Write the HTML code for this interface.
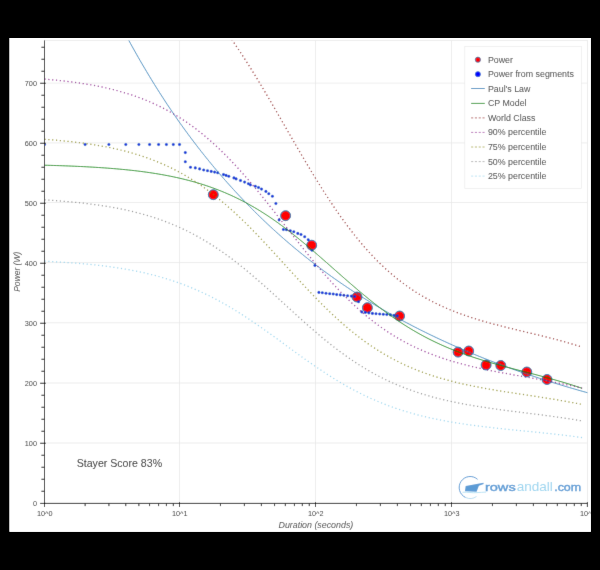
<!DOCTYPE html><html><head><meta charset="utf-8"><title>CP chart</title><style>html,body{margin:0;padding:0;background:#000;}svg{display:block;font-family:"Liberation Sans",sans-serif;}</style></head><body>
<svg width="600" height="570" viewBox="0 0 600 570">
<rect x="0" y="0" width="600" height="570" fill="#000"/>
<rect x="9.5" y="38" width="581.3" height="493.8" fill="#fff"/>
<defs><clipPath id="fr"><rect x="44.5" y="40.5" width="542.9" height="462.9"/></clipPath><clipPath id="wh"><rect x="9.5" y="38" width="581.3" height="493.8"/></clipPath><filter id="soft" x="0" y="0" width="600" height="570" filterUnits="userSpaceOnUse"><feConvolveMatrix order="3" kernelMatrix="0.00524 0.06192 0.00524 0.06192 0.73137 0.06192 0.00524 0.06192 0.00524" divisor="1" edgeMode="duplicate" preserveAlpha="true"/></filter></defs>
<g clip-path="url(#wh)"><g filter="url(#soft)">
<rect x="0" y="0" width="600" height="570" fill="#fff"/>
<path d="M179.50,40.5 V503.4 M315.50,40.5 V503.4 M451.50,40.5 V503.4 M44.5,443.00 H587.4 M44.5,383.00 H587.4 M44.5,322.80 H587.4 M44.5,262.55 H587.4 M44.5,202.50 H587.4 M44.5,142.90 H587.4 M44.5,83.15 H587.4" stroke="#e5e5e5" stroke-width="0.7" fill="none"/>
<rect x="44.5" y="40.5" width="542.9" height="462.9" fill="none" stroke="#e5e5e5" stroke-width="0.7"/>
<g clip-path="url(#fr)" fill="none">
<g fill="#ff0000" stroke="#1f77b4" stroke-width="1">
<circle cx="213.3" cy="194.7" r="4.95"/>
<circle cx="285.6" cy="215.7" r="4.95"/>
<circle cx="311.7" cy="245.2" r="4.95"/>
<circle cx="357.0" cy="297.0" r="4.95"/>
<circle cx="367.4" cy="307.7" r="4.95"/>
<circle cx="399.6" cy="316.0" r="4.95"/>
<circle cx="458.1" cy="352.1" r="4.95"/>
<circle cx="468.7" cy="351.0" r="4.95"/>
<circle cx="486.1" cy="365.0" r="4.95"/>
<circle cx="500.8" cy="365.5" r="4.95"/>
<circle cx="526.8" cy="372.0" r="4.95"/>
<circle cx="547.0" cy="379.5" r="4.95"/>
</g>
<g fill="#0022e0" stroke="#1f77b4" stroke-width="0.3">
<circle cx="44.5" cy="144.5" r="1.3"/>
<circle cx="85.1" cy="144.5" r="1.3"/>
<circle cx="108.9" cy="144.5" r="1.3"/>
<circle cx="125.8" cy="144.5" r="1.3"/>
<circle cx="138.9" cy="144.5" r="1.3"/>
<circle cx="149.6" cy="144.5" r="1.3"/>
<circle cx="158.6" cy="144.5" r="1.3"/>
<circle cx="166.4" cy="144.5" r="1.3"/>
<circle cx="173.3" cy="144.5" r="1.3"/>
<circle cx="179.5" cy="144.5" r="1.3"/>
<circle cx="185.3" cy="152.6" r="1.3"/>
<circle cx="185.3" cy="161.8" r="1.3"/>
<circle cx="190.5" cy="167.2" r="1.3"/>
<circle cx="195.3" cy="167.9" r="1.3"/>
<circle cx="199.6" cy="168.9" r="1.3"/>
<circle cx="203.7" cy="170.0" r="1.3"/>
<circle cx="207.5" cy="170.7" r="1.3"/>
<circle cx="211.2" cy="171.4" r="1.3"/>
<circle cx="214.6" cy="172.1" r="1.3"/>
<circle cx="217.7" cy="172.8" r="1.3"/>
<circle cx="223.5" cy="174.6" r="1.3"/>
<circle cx="226.1" cy="175.4" r="1.3"/>
<circle cx="228.8" cy="176.3" r="1.3"/>
<circle cx="233.9" cy="177.9" r="1.3"/>
<circle cx="236.1" cy="178.9" r="1.3"/>
<circle cx="240.5" cy="180.5" r="1.3"/>
<circle cx="244.6" cy="182.1" r="1.3"/>
<circle cx="248.4" cy="183.7" r="1.3"/>
<circle cx="250.4" cy="184.9" r="1.3"/>
<circle cx="255.3" cy="186.2" r="1.3"/>
<circle cx="258.5" cy="187.5" r="1.3"/>
<circle cx="261.5" cy="189.1" r="1.3"/>
<circle cx="265.9" cy="191.4" r="1.3"/>
<circle cx="268.8" cy="193.7" r="1.3"/>
<circle cx="272.4" cy="196.2" r="1.3"/>
<circle cx="275.9" cy="203.5" r="1.3"/>
<circle cx="279.1" cy="219.9" r="1.3"/>
<circle cx="283.4" cy="229.5" r="1.3"/>
<circle cx="286.5" cy="229.7" r="1.3"/>
<circle cx="290.3" cy="230.8" r="1.3"/>
<circle cx="293.8" cy="231.8" r="1.3"/>
<circle cx="297.8" cy="233.4" r="1.3"/>
<circle cx="301.0" cy="234.5" r="1.3"/>
<circle cx="304.7" cy="236.8" r="1.3"/>
<circle cx="308.2" cy="239.7" r="1.3"/>
<circle cx="312.0" cy="250.2" r="1.3"/>
<circle cx="314.9" cy="265.4" r="1.3"/>
<circle cx="318.9" cy="292.4" r="1.3"/>
<circle cx="322.3" cy="292.8" r="1.3"/>
<circle cx="326.0" cy="293.3" r="1.3"/>
<circle cx="329.7" cy="293.7" r="1.3"/>
<circle cx="333.2" cy="294.0" r="1.3"/>
<circle cx="336.7" cy="294.6" r="1.3"/>
<circle cx="340.3" cy="294.9" r="1.3"/>
<circle cx="343.9" cy="295.3" r="1.3"/>
<circle cx="347.6" cy="295.8" r="1.3"/>
<circle cx="351.3" cy="296.1" r="1.3"/>
<circle cx="354.7" cy="296.5" r="1.3"/>
<circle cx="358.6" cy="301.8" r="1.3"/>
<circle cx="361.8" cy="311.9" r="1.3"/>
<circle cx="365.3" cy="312.4" r="1.3"/>
<circle cx="368.9" cy="312.9" r="1.3"/>
<circle cx="372.4" cy="313.4" r="1.3"/>
<circle cx="376.0" cy="313.7" r="1.3"/>
<circle cx="379.7" cy="314.0" r="1.3"/>
<circle cx="383.3" cy="314.3" r="1.3"/>
<circle cx="386.8" cy="314.5" r="1.3"/>
<circle cx="390.5" cy="314.9" r="1.3"/>
<circle cx="394.0" cy="315.4" r="1.3"/>
<circle cx="397.4" cy="315.8" r="1.3"/>
</g>
<path d="M39.55,-169.71 L41.18,-164.86 L42.81,-160.06 L44.43,-155.30 L46.06,-150.59 L47.69,-145.92 L49.32,-141.29 L50.95,-136.71 L52.58,-132.18 L54.20,-127.68 L55.83,-123.23 L57.46,-118.82 L59.08,-114.45 L60.71,-110.13 L62.34,-105.84 L63.96,-101.59 L65.59,-97.38 L67.21,-93.21 L68.84,-89.08 L70.46,-84.99 L72.09,-80.94 L73.71,-76.92 L75.33,-72.94 L76.96,-68.99 L78.58,-65.08 L80.20,-61.21 L81.82,-57.37 L83.44,-53.57 L85.07,-49.80 L86.69,-46.06 L88.31,-42.36 L89.93,-38.69 L91.55,-35.06 L93.17,-31.46 L94.79,-27.89 L96.41,-24.35 L98.03,-20.84 L99.65,-17.36 L101.26,-13.92 L102.88,-10.50 L104.50,-7.11 L106.12,-3.76 L107.74,-0.43 L109.35,2.87 L110.97,6.14 L112.59,9.38 L114.20,12.59 L115.82,15.77 L117.43,18.93 L119.05,22.06 L120.66,25.16 L122.28,28.24 L123.89,31.29 L125.51,34.31 L127.12,37.31 L128.74,40.28 L130.35,43.23 L131.96,46.15 L133.58,49.05 L135.19,51.92 L136.80,54.77 L138.41,57.60 L140.03,60.40 L141.64,63.18 L143.25,65.93 L144.86,68.66 L146.47,71.37 L148.08,74.06 L149.69,76.72 L151.30,79.37 L152.91,81.99 L154.52,84.59 L156.13,87.16 L157.74,89.72 L159.35,92.26 L160.96,94.77 L162.57,97.26 L164.18,99.74 L165.78,102.19 L167.39,104.63 L169.00,107.04 L170.61,109.44 L172.21,111.81 L173.82,114.17 L175.43,116.51 L177.03,118.83 L178.64,121.13 L180.25,123.41 L181.87,125.67 L183.49,127.92 L185.10,130.15 L186.72,132.36 L188.34,134.55 L189.95,136.73 L191.57,138.89 L193.18,141.03 L194.80,143.15 L196.42,145.26 L198.03,147.36 L199.65,149.43 L201.26,151.49 L202.87,153.54 L204.49,155.56 L206.10,157.58 L207.72,159.57 L209.33,161.55 L210.94,163.52 L212.56,165.47 L214.17,167.41 L215.78,169.33 L217.40,171.24 L219.01,173.13 L220.62,175.01 L222.23,176.87 L223.84,178.72 L225.46,180.56 L227.07,182.38 L228.68,184.19 L230.29,185.98 L231.90,187.76 L233.51,189.53 L235.12,191.29 L236.73,193.03 L238.34,194.76 L239.95,196.47 L241.56,198.17 L243.17,199.87 L244.78,201.54 L246.39,203.21 L247.99,204.86 L249.60,206.50 L251.21,208.13 L252.82,209.75 L254.43,211.36 L256.03,212.95 L257.64,214.53 L259.25,216.10 L260.86,217.66 L262.46,219.21 L264.07,220.75 L265.68,222.27 L267.28,223.79 L268.89,225.29 L270.49,226.79 L272.10,228.27 L273.70,229.74 L275.31,231.20 L276.92,232.65 L278.52,234.10 L280.13,235.53 L281.73,236.95 L283.33,238.36 L284.94,239.76 L286.54,241.15 L288.15,242.53 L289.75,243.90 L291.35,245.26 L292.96,246.61 L294.56,247.96 L296.16,249.29 L297.77,250.61 L299.37,251.93 L300.97,253.23 L302.57,254.53 L304.17,255.82 L305.78,257.10 L307.38,258.37 L308.98,259.63 L310.58,260.88 L312.18,262.13 L313.78,263.36 L315.38,264.59 L316.98,265.81 L318.58,267.02 L320.18,268.22 L321.78,269.41 L323.38,270.60 L324.98,271.78 L326.58,272.95 L328.18,274.11 L329.78,275.27 L331.38,276.41 L332.98,277.55 L334.58,278.68 L336.18,279.81 L337.78,280.92 L339.37,282.03 L340.97,283.13 L342.57,284.23 L344.17,285.31 L345.77,286.39 L347.36,287.47 L348.96,288.53 L350.56,289.59 L352.15,290.64 L353.75,291.69 L355.35,292.72 L356.94,293.76 L358.54,294.78 L360.14,295.80 L361.73,296.81 L363.33,297.81 L364.92,298.81 L366.52,299.80 L368.12,300.79 L369.71,301.77 L371.31,302.74 L372.90,303.71 L374.50,304.67 L376.09,305.62 L377.68,306.57 L379.28,307.51 L380.87,308.44 L382.47,309.37 L384.06,310.30 L385.65,311.22 L387.25,312.13 L388.84,313.03 L390.44,313.94 L392.03,314.83 L393.62,315.72 L395.21,316.60 L396.81,317.48 L398.40,318.35 L399.99,319.22 L401.58,320.08 L403.18,320.94 L404.77,321.79 L406.36,322.64 L407.95,323.48 L409.54,324.31 L411.13,325.14 L412.73,325.97 L414.32,326.79 L415.91,327.60 L417.50,328.41 L419.09,329.22 L420.68,330.02 L422.27,330.81 L423.86,331.60 L425.45,332.39 L427.04,333.17 L428.63,333.94 L430.22,334.72 L431.81,335.48 L433.40,336.24 L434.99,337.00 L436.58,337.75 L438.17,338.50 L439.76,339.25 L441.34,339.98 L442.93,340.72 L444.52,341.45 L446.11,342.18 L447.70,342.90 L449.29,343.61 L450.87,344.33 L452.46,345.04 L454.05,345.74 L455.64,346.44 L457.22,347.14 L458.81,347.83 L460.40,348.52 L461.99,349.20 L463.57,349.88 L465.16,350.56 L466.75,351.23 L468.33,351.90 L469.92,352.56 L471.51,353.22 L473.09,353.88 L474.68,354.53 L476.26,355.18 L477.85,355.82 L479.43,356.46 L481.02,357.10 L482.61,357.74 L484.19,358.37 L485.78,358.99 L487.36,359.61 L488.95,360.23 L490.53,360.85 L492.12,361.46 L493.70,362.07 L495.28,362.68 L496.87,363.28 L498.45,363.88 L500.04,364.47 L501.62,365.06 L503.20,365.65 L504.79,366.24 L506.37,366.82 L507.96,367.40 L509.54,367.97 L511.12,368.54 L512.71,369.11 L514.29,369.68 L515.87,370.24 L517.45,370.80 L519.04,371.35 L520.62,371.91 L522.20,372.45 L523.78,373.00 L525.37,373.54 L526.95,374.09 L528.53,374.62 L530.11,375.16 L531.69,375.69 L533.28,376.22 L534.86,376.74 L536.44,377.27 L538.02,377.79 L539.60,378.30 L541.18,378.82 L542.76,379.33 L544.34,379.84 L545.92,380.34 L547.50,380.85 L549.08,381.35 L550.67,381.84 L552.25,382.34 L553.83,382.83 L555.41,383.32 L556.99,383.81 L558.57,384.29 L560.15,384.77 L561.72,385.25 L563.30,385.73 L564.88,386.20 L566.46,386.67 L568.04,387.14 L569.62,387.61 L571.20,388.07 L572.78,388.53 L574.36,388.99 L575.94,389.45 L577.52,389.90 L579.09,390.35 L580.67,390.80 L582.25,391.25 L583.83,391.69 L585.41,392.14 L586.98,392.58 L588.56,393.01 L590.14,393.45" stroke="#1f77b4" stroke-width="0.95" stroke-opacity="0.85"/>
<path d="M44.50,165.21 L47.50,165.29 L50.51,165.37 L53.51,165.46 L56.51,165.55 L59.52,165.65 L62.52,165.76 L65.52,165.87 L68.53,165.98 L71.53,166.10 L74.53,166.23 L77.54,166.36 L80.54,166.50 L83.54,166.65 L86.55,166.81 L89.55,166.97 L92.55,167.14 L95.56,167.32 L98.56,167.51 L101.56,167.71 L104.57,167.92 L107.57,168.14 L110.57,168.37 L113.58,168.61 L116.58,168.86 L119.58,169.13 L122.59,169.41 L125.59,169.70 L128.59,170.01 L131.60,170.33 L134.60,170.67 L137.60,171.03 L140.61,171.40 L143.61,171.79 L146.61,172.20 L149.62,172.63 L152.62,173.08 L155.62,173.56 L158.63,174.05 L161.63,174.57 L164.63,175.11 L167.64,175.68 L170.64,176.27 L173.64,176.89 L176.65,177.54 L179.65,178.22 L182.65,178.92 L185.66,179.66 L188.66,180.43 L191.66,181.23 L194.67,182.06 L197.67,182.93 L200.67,183.84 L203.68,184.79 L206.68,185.77 L209.68,186.80 L212.69,187.87 L215.69,188.98 L218.69,190.13 L221.70,191.33 L224.70,192.57 L227.70,193.86 L230.71,195.20 L233.71,196.58 L236.71,198.01 L239.72,199.50 L242.72,201.03 L245.72,202.62 L248.73,204.25 L251.73,205.94 L254.73,207.68 L257.74,209.47 L260.74,211.31 L263.74,213.21 L266.75,215.15 L269.75,217.15 L272.75,219.20 L275.76,221.29 L278.76,223.44 L281.76,225.63 L284.77,227.86 L287.77,230.14 L290.77,232.47 L293.78,234.83 L296.78,237.23 L299.78,239.67 L302.79,242.14 L305.79,244.65 L308.79,247.18 L311.80,249.74 L314.80,252.32 L317.81,254.92 L320.81,257.54 L323.81,260.17 L326.82,262.81 L329.82,265.46 L332.82,268.11 L335.83,270.77 L338.83,273.42 L341.83,276.06 L344.84,278.70 L347.84,281.32 L350.84,283.92 L353.85,286.51 L356.85,289.07 L359.85,291.61 L362.86,294.12 L365.86,296.60 L368.86,299.05 L371.87,301.47 L374.87,303.84 L377.87,306.18 L380.88,308.48 L383.88,310.73 L386.88,312.94 L389.89,315.11 L392.89,317.23 L395.89,319.30 L398.90,321.33 L401.90,323.31 L404.90,325.24 L407.91,327.12 L410.91,328.96 L413.91,330.74 L416.92,332.48 L419.92,334.17 L422.92,335.81 L425.93,337.41 L428.93,338.96 L431.93,340.46 L434.94,341.92 L437.94,343.34 L440.94,344.72 L443.95,346.05 L446.95,347.35 L449.95,348.61 L452.96,349.83 L455.96,351.01 L458.96,352.16 L461.97,353.28 L464.97,354.37 L467.97,355.43 L470.98,356.46 L473.98,357.46 L476.98,358.44 L479.99,359.39 L482.99,360.32 L485.99,361.23 L489.00,362.12 L492.00,363.00 L495.00,363.86 L498.01,364.70 L501.01,365.53 L504.01,366.35 L507.02,367.16 L510.02,367.96 L513.02,368.75 L516.03,369.54 L519.03,370.32 L522.03,371.10 L525.04,371.88 L528.04,372.66 L531.04,373.45 L534.05,374.23 L537.05,375.02 L540.05,375.82 L543.06,376.62 L546.06,377.43 L549.06,378.26 L552.07,379.09 L555.07,379.94 L558.07,380.80 L561.08,381.67 L564.08,382.56 L567.08,383.47 L570.09,384.40 L573.09,385.34 L576.09,386.31 L579.10,387.30 L582.10,388.31" stroke="#008000" stroke-width="0.95" stroke-opacity="0.85"/>
<path d="M44.50,-72.21 L47.50,-71.87 L50.51,-71.50 L53.51,-71.11 L56.51,-70.71 L59.52,-70.28 L62.52,-69.83 L65.52,-69.36 L68.53,-68.87 L71.53,-68.35 L74.53,-67.81 L77.54,-67.24 L80.54,-66.64 L83.54,-66.01 L86.55,-65.35 L89.55,-64.66 L92.55,-63.93 L95.56,-63.17 L98.56,-62.38 L101.56,-61.54 L104.57,-60.66 L107.57,-59.75 L110.57,-58.79 L113.58,-57.78 L116.58,-56.72 L119.58,-55.62 L122.59,-54.47 L125.59,-53.26 L128.59,-52.00 L131.60,-50.67 L134.60,-49.29 L137.60,-47.85 L140.61,-46.35 L143.61,-44.77 L146.61,-43.13 L149.62,-41.42 L152.62,-39.64 L155.62,-37.77 L158.63,-35.84 L161.63,-33.82 L164.63,-31.72 L167.64,-29.53 L170.64,-27.26 L173.64,-24.90 L176.65,-22.45 L179.65,-19.91 L182.65,-17.29 L185.66,-14.57 L188.66,-11.76 L191.66,-8.86 L194.67,-5.85 L197.67,-2.74 L200.67,0.46 L203.68,3.77 L206.68,7.18 L209.68,10.70 L212.69,14.31 L215.69,18.03 L218.69,21.85 L221.70,25.76 L224.70,29.78 L227.70,33.89 L230.71,38.10 L233.71,42.40 L236.71,46.80 L239.72,51.27 L242.72,55.84 L245.72,60.48 L248.73,65.20 L251.73,69.99 L254.73,74.85 L257.74,79.78 L260.74,84.75 L263.74,89.79 L266.75,94.86 L269.75,99.98 L272.75,105.13 L275.76,110.30 L278.76,115.50 L281.76,120.71 L284.77,125.93 L287.77,131.15 L290.77,136.37 L293.78,141.57 L296.78,146.75 L299.78,151.91 L302.79,157.03 L305.79,162.12 L308.79,167.16 L311.80,172.15 L314.80,177.09 L317.81,181.96 L320.81,186.77 L323.81,191.51 L326.82,196.17 L329.82,200.75 L332.82,205.25 L335.83,209.67 L338.83,213.99 L341.83,218.23 L344.84,222.37 L347.84,226.41 L350.84,230.36 L353.85,234.21 L356.85,237.96 L359.85,241.60 L362.86,245.15 L365.86,248.60 L368.86,251.95 L371.87,255.19 L374.87,258.34 L377.87,261.39 L380.88,264.34 L383.88,267.19 L386.88,269.95 L389.89,272.62 L392.89,275.20 L395.89,277.68 L398.90,280.08 L401.90,282.40 L404.90,284.63 L407.91,286.78 L410.91,288.85 L413.91,290.85 L416.92,292.77 L419.92,294.62 L422.92,296.40 L425.93,298.11 L428.93,299.76 L431.93,301.35 L434.94,302.88 L437.94,304.35 L440.94,305.77 L443.95,307.13 L446.95,308.45 L449.95,309.72 L452.96,310.94 L455.96,312.12 L458.96,313.25 L461.97,314.35 L464.97,315.41 L467.97,316.44 L470.98,317.43 L473.98,318.39 L476.98,319.33 L479.99,320.24 L482.99,321.12 L485.99,321.98 L489.00,322.82 L492.00,323.64 L495.00,324.44 L498.01,325.22 L501.01,325.99 L504.01,326.75 L507.02,327.50 L510.02,328.24 L513.02,328.97 L516.03,329.69 L519.03,330.41 L522.03,331.13 L525.04,331.84 L528.04,332.56 L531.04,333.28 L534.05,334.00 L537.05,334.72 L540.05,335.45 L543.06,336.19 L546.06,336.94 L549.06,337.70 L552.07,338.47 L555.07,339.25 L558.07,340.05 L561.08,340.87 L564.08,341.70 L567.08,342.55 L570.09,343.42 L573.09,344.31 L576.09,345.23 L579.10,346.17 L582.10,347.14" stroke="#800000" stroke-width="1.25" stroke-opacity="0.85" stroke-dasharray="1.15 2.69"/>
<path d="M44.50,79.08 L47.50,79.33 L50.51,79.61 L53.51,79.89 L56.51,80.19 L59.52,80.50 L62.52,80.83 L65.52,81.18 L68.53,81.54 L71.53,81.92 L74.53,82.32 L77.54,82.74 L80.54,83.19 L83.54,83.65 L86.55,84.14 L89.55,84.64 L92.55,85.18 L95.56,85.74 L98.56,86.33 L101.56,86.94 L104.57,87.59 L107.57,88.27 L110.57,88.97 L113.58,89.72 L116.58,90.49 L119.58,91.31 L122.59,92.16 L125.59,93.05 L128.59,93.98 L131.60,94.95 L134.60,95.97 L137.60,97.03 L140.61,98.14 L143.61,99.30 L146.61,100.51 L149.62,101.77 L152.62,103.09 L155.62,104.46 L158.63,105.89 L161.63,107.38 L164.63,108.92 L167.64,110.54 L170.64,112.21 L173.64,113.95 L176.65,115.76 L179.65,117.63 L182.65,119.56 L185.66,121.56 L188.66,123.63 L191.66,125.77 L194.67,127.99 L197.67,130.28 L200.67,132.64 L203.68,135.08 L206.68,137.60 L209.68,140.18 L212.69,142.85 L215.69,145.59 L218.69,148.40 L221.70,151.29 L224.70,154.25 L227.70,157.28 L230.71,160.38 L233.71,163.55 L236.71,166.79 L239.72,170.09 L242.72,173.46 L245.72,176.88 L248.73,180.36 L251.73,183.89 L254.73,187.47 L257.74,191.10 L260.74,194.77 L263.74,198.48 L266.75,202.22 L269.75,205.99 L272.75,209.78 L275.76,213.60 L278.76,217.43 L281.76,221.27 L284.77,225.12 L287.77,228.97 L290.77,232.81 L293.78,236.64 L296.78,240.46 L299.78,244.26 L302.79,248.04 L305.79,251.79 L308.79,255.50 L311.80,259.18 L314.80,262.82 L317.81,266.41 L320.81,269.95 L323.81,273.45 L326.82,276.88 L329.82,280.26 L332.82,283.58 L335.83,286.83 L338.83,290.02 L341.83,293.14 L344.84,296.19 L347.84,299.17 L350.84,302.08 L353.85,304.92 L356.85,307.68 L359.85,310.37 L362.86,312.99 L365.86,315.53 L368.86,317.99 L371.87,320.38 L374.87,322.70 L377.87,324.95 L380.88,327.13 L383.88,329.23 L386.88,331.26 L389.89,333.23 L392.89,335.13 L395.89,336.96 L398.90,338.73 L401.90,340.44 L404.90,342.08 L407.91,343.67 L410.91,345.19 L413.91,346.66 L416.92,348.08 L419.92,349.44 L422.92,350.76 L425.93,352.02 L428.93,353.24 L431.93,354.41 L434.94,355.53 L437.94,356.62 L440.94,357.66 L443.95,358.67 L446.95,359.64 L449.95,360.57 L452.96,361.47 L455.96,362.34 L458.96,363.18 L461.97,363.99 L464.97,364.77 L467.97,365.52 L470.98,366.26 L473.98,366.97 L476.98,367.66 L479.99,368.32 L482.99,368.97 L485.99,369.61 L489.00,370.23 L492.00,370.83 L495.00,371.42 L498.01,372.00 L501.01,372.57 L504.01,373.13 L507.02,373.68 L510.02,374.22 L513.02,374.76 L516.03,375.29 L519.03,375.82 L522.03,376.35 L525.04,376.88 L528.04,377.41 L531.04,377.94 L534.05,378.47 L537.05,379.00 L540.05,379.54 L543.06,380.08 L546.06,380.64 L549.06,381.20 L552.07,381.76 L555.07,382.34 L558.07,382.93 L561.08,383.53 L564.08,384.14 L567.08,384.77 L570.09,385.41 L573.09,386.07 L576.09,386.75 L579.10,387.44 L582.10,388.15" stroke="#800080" stroke-width="1.25" stroke-opacity="0.85" stroke-dasharray="1.15 2.69"/>
<path d="M44.50,139.29 L47.50,139.51 L50.51,139.74 L53.51,139.99 L56.51,140.24 L59.52,140.51 L62.52,140.79 L65.52,141.09 L68.53,141.40 L71.53,141.73 L74.53,142.07 L77.54,142.44 L80.54,142.81 L83.54,143.21 L86.55,143.63 L89.55,144.07 L92.55,144.52 L95.56,145.01 L98.56,145.51 L101.56,146.04 L104.57,146.59 L107.57,147.17 L110.57,147.78 L113.58,148.42 L116.58,149.08 L119.58,149.78 L122.59,150.51 L125.59,151.28 L128.59,152.07 L131.60,152.91 L134.60,153.78 L137.60,154.69 L140.61,155.65 L143.61,156.64 L146.61,157.68 L149.62,158.76 L152.62,159.89 L155.62,161.07 L158.63,162.29 L161.63,163.57 L164.63,164.90 L167.64,166.28 L170.64,167.72 L173.64,169.21 L176.65,170.76 L179.65,172.37 L182.65,174.02 L185.66,175.74 L188.66,177.52 L191.66,179.35 L194.67,181.25 L197.67,183.22 L200.67,185.25 L203.68,187.34 L206.68,189.50 L209.68,191.72 L212.69,194.00 L215.69,196.35 L218.69,198.77 L221.70,201.25 L224.70,203.79 L227.70,206.39 L230.71,209.05 L233.71,211.77 L236.71,214.55 L239.72,217.38 L242.72,220.26 L245.72,223.20 L248.73,226.19 L251.73,229.22 L254.73,232.29 L257.74,235.40 L260.74,238.55 L263.74,241.73 L266.75,244.94 L269.75,248.18 L272.75,251.43 L275.76,254.71 L278.76,257.99 L281.76,261.29 L284.77,264.59 L287.77,267.89 L290.77,271.19 L293.78,274.48 L296.78,277.76 L299.78,281.02 L302.79,284.26 L305.79,287.47 L308.79,290.66 L311.80,293.82 L314.80,296.94 L317.81,300.02 L320.81,303.06 L323.81,306.06 L326.82,309.01 L329.82,311.90 L332.82,314.75 L335.83,317.54 L338.83,320.28 L341.83,322.96 L344.84,325.57 L347.84,328.13 L350.84,330.63 L353.85,333.06 L356.85,335.43 L359.85,337.74 L362.86,339.98 L365.86,342.16 L368.86,344.28 L371.87,346.33 L374.87,348.32 L377.87,350.25 L380.88,352.11 L383.88,353.92 L386.88,355.67 L389.89,357.35 L392.89,358.98 L395.89,360.55 L398.90,362.07 L401.90,363.53 L404.90,364.95 L407.91,366.31 L410.91,367.62 L413.91,368.88 L416.92,370.09 L419.92,371.26 L422.92,372.39 L425.93,373.47 L428.93,374.52 L431.93,375.52 L434.94,376.49 L437.94,377.42 L440.94,378.31 L443.95,379.18 L446.95,380.01 L449.95,380.81 L452.96,381.58 L455.96,382.33 L458.96,383.05 L461.97,383.74 L464.97,384.41 L467.97,385.06 L470.98,385.69 L473.98,386.30 L476.98,386.89 L479.99,387.46 L482.99,388.02 L485.99,388.56 L489.00,389.09 L492.00,389.61 L495.00,390.12 L498.01,390.62 L501.01,391.10 L504.01,391.58 L507.02,392.05 L510.02,392.52 L513.02,392.98 L516.03,393.44 L519.03,393.90 L522.03,394.35 L525.04,394.80 L528.04,395.26 L531.04,395.71 L534.05,396.16 L537.05,396.62 L540.05,397.09 L543.06,397.55 L546.06,398.03 L549.06,398.51 L552.07,398.99 L555.07,399.49 L558.07,399.99 L561.08,400.51 L564.08,401.03 L567.08,401.57 L570.09,402.12 L573.09,402.69 L576.09,403.27 L579.10,403.86 L582.10,404.47" stroke="#808000" stroke-width="1.25" stroke-opacity="0.85" stroke-dasharray="1.15 2.69"/>
<path d="M44.50,199.92 L47.50,200.11 L50.51,200.30 L53.51,200.50 L56.51,200.72 L59.52,200.94 L62.52,201.18 L65.52,201.43 L68.53,201.69 L71.53,201.96 L74.53,202.25 L77.54,202.55 L80.54,202.86 L83.54,203.19 L86.55,203.54 L89.55,203.90 L92.55,204.29 L95.56,204.69 L98.56,205.11 L101.56,205.55 L104.57,206.01 L107.57,206.49 L110.57,207.00 L113.58,207.53 L116.58,208.09 L119.58,208.67 L122.59,209.28 L125.59,209.91 L128.59,210.58 L131.60,211.27 L134.60,212.00 L137.60,212.76 L140.61,213.56 L143.61,214.38 L146.61,215.25 L149.62,216.15 L152.62,217.09 L155.62,218.07 L158.63,219.09 L161.63,220.16 L164.63,221.26 L167.64,222.42 L170.64,223.61 L173.64,224.86 L176.65,226.15 L179.65,227.49 L182.65,228.87 L185.66,230.30 L188.66,231.78 L191.66,233.31 L194.67,234.90 L197.67,236.53 L200.67,238.22 L203.68,239.97 L206.68,241.76 L209.68,243.62 L212.69,245.52 L215.69,247.48 L218.69,249.49 L221.70,251.56 L224.70,253.67 L227.70,255.84 L230.71,258.06 L233.71,260.32 L236.71,262.64 L239.72,265.00 L242.72,267.40 L245.72,269.85 L248.73,272.34 L251.73,274.86 L254.73,277.42 L257.74,280.02 L260.74,282.64 L263.74,285.29 L266.75,287.97 L269.75,290.66 L272.75,293.38 L275.76,296.11 L278.76,298.85 L281.76,301.59 L284.77,304.34 L287.77,307.09 L290.77,309.84 L293.78,312.58 L296.78,315.31 L299.78,318.03 L302.79,320.73 L305.79,323.41 L308.79,326.07 L311.80,328.70 L314.80,331.30 L317.81,333.87 L320.81,336.40 L323.81,338.90 L326.82,341.35 L329.82,343.77 L332.82,346.14 L335.83,348.47 L338.83,350.75 L341.83,352.98 L344.84,355.16 L347.84,357.29 L350.84,359.37 L353.85,361.40 L356.85,363.38 L359.85,365.30 L362.86,367.17 L365.86,368.98 L368.86,370.75 L371.87,372.46 L374.87,374.12 L377.87,375.72 L380.88,377.28 L383.88,378.78 L386.88,380.24 L389.89,381.64 L392.89,383.00 L395.89,384.31 L398.90,385.58 L401.90,386.80 L404.90,387.97 L407.91,389.10 L410.91,390.20 L413.91,391.25 L416.92,392.26 L419.92,393.24 L422.92,394.17 L425.93,395.08 L428.93,395.95 L431.93,396.78 L434.94,397.59 L437.94,398.37 L440.94,399.11 L443.95,399.83 L446.95,400.52 L449.95,401.19 L452.96,401.84 L455.96,402.46 L458.96,403.06 L461.97,403.63 L464.97,404.19 L467.97,404.73 L470.98,405.26 L473.98,405.77 L476.98,406.26 L479.99,406.74 L482.99,407.20 L485.99,407.65 L489.00,408.10 L492.00,408.53 L495.00,408.95 L498.01,409.36 L501.01,409.77 L504.01,410.17 L507.02,410.56 L510.02,410.95 L513.02,411.34 L516.03,411.72 L519.03,412.10 L522.03,412.48 L525.04,412.85 L528.04,413.23 L531.04,413.61 L534.05,413.99 L537.05,414.37 L540.05,414.75 L543.06,415.14 L546.06,415.54 L549.06,415.94 L552.07,416.34 L555.07,416.76 L558.07,417.18 L561.08,417.61 L564.08,418.05 L567.08,418.49 L570.09,418.95 L573.09,419.42 L576.09,419.91 L579.10,420.40 L582.10,420.91" stroke="#808080" stroke-width="1.25" stroke-opacity="0.85" stroke-dasharray="1.15 2.69"/>
<path d="M44.50,261.19 L47.50,261.34 L50.51,261.50 L53.51,261.66 L56.51,261.83 L59.52,262.01 L62.52,262.20 L65.52,262.39 L68.53,262.60 L71.53,262.82 L74.53,263.05 L77.54,263.29 L80.54,263.54 L83.54,263.80 L86.55,264.08 L89.55,264.37 L92.55,264.68 L95.56,265.00 L98.56,265.33 L101.56,265.68 L104.57,266.05 L107.57,266.44 L110.57,266.84 L113.58,267.26 L116.58,267.71 L119.58,268.17 L122.59,268.66 L125.59,269.17 L128.59,269.70 L131.60,270.25 L134.60,270.83 L137.60,271.44 L140.61,272.07 L143.61,272.73 L146.61,273.42 L149.62,274.14 L152.62,274.89 L155.62,275.68 L158.63,276.49 L161.63,277.34 L164.63,278.22 L167.64,279.14 L170.64,280.10 L173.64,281.09 L176.65,282.12 L179.65,283.19 L182.65,284.29 L185.66,285.43 L188.66,286.61 L191.66,287.84 L194.67,289.10 L197.67,290.41 L200.67,291.75 L203.68,293.15 L206.68,294.58 L209.68,296.06 L212.69,297.58 L215.69,299.14 L218.69,300.74 L221.70,302.39 L224.70,304.08 L227.70,305.81 L230.71,307.58 L233.71,309.39 L236.71,311.24 L239.72,313.12 L242.72,315.04 L245.72,316.99 L248.73,318.98 L251.73,320.99 L254.73,323.03 L257.74,325.10 L260.74,327.20 L263.74,329.31 L266.75,331.45 L269.75,333.60 L272.75,335.76 L275.76,337.94 L278.76,340.13 L281.76,342.32 L284.77,344.51 L287.77,346.71 L290.77,348.90 L293.78,351.09 L296.78,353.26 L299.78,355.43 L302.79,357.59 L305.79,359.73 L308.79,361.85 L311.80,363.94 L314.80,366.02 L317.81,368.07 L320.81,370.09 L323.81,372.08 L326.82,374.04 L329.82,375.97 L332.82,377.86 L335.83,379.72 L338.83,381.54 L341.83,383.32 L344.84,385.06 L347.84,386.76 L350.84,388.42 L353.85,390.04 L356.85,391.61 L359.85,393.15 L362.86,394.64 L365.86,396.09 L368.86,397.50 L371.87,398.86 L374.87,400.18 L377.87,401.47 L380.88,402.71 L383.88,403.91 L386.88,405.07 L389.89,406.19 L392.89,407.27 L395.89,408.32 L398.90,409.33 L401.90,410.30 L404.90,411.24 L407.91,412.14 L410.91,413.01 L413.91,413.85 L416.92,414.66 L419.92,415.44 L422.92,416.19 L425.93,416.91 L428.93,417.60 L431.93,418.27 L434.94,418.91 L437.94,419.53 L440.94,420.13 L443.95,420.70 L446.95,421.25 L449.95,421.79 L452.96,422.30 L455.96,422.80 L458.96,423.27 L461.97,423.74 L464.97,424.18 L467.97,424.61 L470.98,425.03 L473.98,425.44 L476.98,425.83 L479.99,426.21 L482.99,426.58 L485.99,426.94 L489.00,427.30 L492.00,427.64 L495.00,427.98 L498.01,428.31 L501.01,428.63 L504.01,428.95 L507.02,429.26 L510.02,429.57 L513.02,429.88 L516.03,430.19 L519.03,430.49 L522.03,430.79 L525.04,431.09 L528.04,431.39 L531.04,431.69 L534.05,432.00 L537.05,432.30 L540.05,432.61 L543.06,432.92 L546.06,433.23 L549.06,433.55 L552.07,433.88 L555.07,434.21 L558.07,434.54 L561.08,434.88 L564.08,435.23 L567.08,435.59 L570.09,435.96 L573.09,436.33 L576.09,436.72 L579.10,437.12 L582.10,437.52" stroke="#87ceeb" stroke-width="1.25" stroke-opacity="0.85" stroke-dasharray="1.15 2.69"/>
</g>
<path d="M44.5,40.5 V503.4 M44.5,503.4 H587.4 M40.10,503.40 H45.80 M41.40,491.25 H44.50 M41.40,479.25 H44.50 M41.40,467.25 H44.50 M41.40,455.25 H44.50 M40.10,443.25 H45.80 M41.40,431.25 H44.50 M41.40,419.25 H44.50 M41.40,407.25 H44.50 M41.40,395.25 H44.50 M40.10,383.25 H45.80 M41.40,371.25 H44.50 M41.40,359.25 H44.50 M41.40,347.25 H44.50 M41.40,335.25 H44.50 M40.10,323.25 H45.80 M41.40,311.25 H44.50 M41.40,299.25 H44.50 M41.40,287.25 H44.50 M41.40,275.25 H44.50 M40.10,263.25 H45.80 M41.40,251.25 H44.50 M41.40,239.25 H44.50 M41.40,227.25 H44.50 M41.40,215.25 H44.50 M40.10,203.25 H45.80 M41.40,191.25 H44.50 M41.40,179.25 H44.50 M41.40,167.25 H44.50 M41.40,155.25 H44.50 M40.10,143.25 H45.80 M41.40,131.25 H44.50 M41.40,119.25 H44.50 M41.40,107.25 H44.50 M41.40,95.25 H44.50 M40.10,83.25 H45.80 M41.40,71.25 H44.50 M41.40,59.25 H44.50 M41.40,47.25 H44.50 M44.50,502.10 V507.00 M85.14,503.40 V506.10 M108.91,503.40 V506.10 M125.78,503.40 V506.10 M138.86,503.40 V506.10 M149.55,503.40 V506.10 M158.59,503.40 V506.10 M166.42,503.40 V506.10 M173.32,503.40 V506.10 M179.50,502.10 V507.00 M220.44,503.40 V506.10 M244.39,503.40 V506.10 M261.38,503.40 V506.10 M274.56,503.40 V506.10 M285.33,503.40 V506.10 M294.43,503.40 V506.10 M302.32,503.40 V506.10 M309.28,503.40 V506.10 M315.50,502.10 V507.00 M356.44,503.40 V506.10 M380.39,503.40 V506.10 M397.38,503.40 V506.10 M410.56,503.40 V506.10 M421.33,503.40 V506.10 M430.43,503.40 V506.10 M438.32,503.40 V506.10 M445.28,503.40 V506.10 M451.50,502.10 V507.00 M492.44,503.40 V506.10 M516.39,503.40 V506.10 M533.38,503.40 V506.10 M546.56,503.40 V506.10 M557.33,503.40 V506.10 M566.43,503.40 V506.10 M574.32,503.40 V506.10 M581.28,503.40 V506.10 M587.40,502.10 V507.00" stroke="#111" stroke-width="0.95" fill="none"/>
<g font-size="7.3" fill="#363636">
<text x="37" y="506.0" text-anchor="end">0</text>
<text x="37" y="445.9" text-anchor="end">100</text>
<text x="37" y="385.9" text-anchor="end">200</text>
<text x="37" y="325.9" text-anchor="end">300</text>
<text x="37" y="265.9" text-anchor="end">400</text>
<text x="37" y="205.8" text-anchor="end">500</text>
<text x="37" y="145.8" text-anchor="end">600</text>
<text x="37" y="85.8" text-anchor="end">700</text>
<g clip-path="url(#wh)">
<text x="44.8" y="516.1" text-anchor="middle">10^0</text>
<text x="179.8" y="516.1" text-anchor="middle">10^1</text>
<text x="315.8" y="516.1" text-anchor="middle">10^2</text>
<text x="451.8" y="516.1" text-anchor="middle">10^3</text>
<text x="587.8" y="516.1" text-anchor="middle">10^4</text>
</g></g>
<text x="315.9" y="527.8" font-size="8.85" font-style="italic" fill="#4a4a4a" text-anchor="middle">Duration (seconds)</text>
<text transform="translate(20.3,271.8) rotate(-90)" font-size="8.5" font-style="italic" fill="#4a4a4a" text-anchor="middle">Power (W)</text>
<text x="76.7" y="467.1" font-size="10.6" fill="#2b2b2b">Stayer Score 83%</text>
<rect x="464.8" y="46.5" width="116.5" height="141.9" fill="#fff" fill-opacity="0.95" stroke="#e5e5e5" stroke-width="0.55"/>
<g font-size="8.85" fill="#444">
<text x="487.9" y="62.6">Power</text>
<text x="487.9" y="77.2">Power from segments</text>
<text x="487.9" y="91.7">Paul's Law</text>
<text x="487.9" y="106.3">CP Model</text>
<text x="487.9" y="120.8">World Class</text>
<text x="487.9" y="135.3">90% percentile</text>
<text x="487.9" y="149.9">75% percentile</text>
<text x="487.9" y="164.5">50% percentile</text>
<text x="487.9" y="179.0">25% percentile</text>
</g>
<circle cx="477.9" cy="59.7" r="2.6" fill="#ff0000" stroke="#1f77b4" stroke-width="0.7"/>
<circle cx="477.9" cy="74.2" r="2.6" fill="#0000ff" stroke="#1f77b4" stroke-width="0.5"/>
<path d="M471.1,88.5 H484.8" stroke="#1f77b4" stroke-width="0.9" stroke-opacity="0.85"/>
<path d="M471.1,103.4 H484.8" stroke="#008000" stroke-width="0.9" stroke-opacity="0.85"/>
<path d="M471.1,117.9 H484.8" stroke="#800000" stroke-width="0.9" stroke-opacity="0.6" stroke-dasharray="2.1 1.7"/>
<path d="M471.1,132.4 H484.8" stroke="#800080" stroke-width="0.9" stroke-opacity="0.6" stroke-dasharray="2.1 1.7"/>
<path d="M471.1,147.0 H484.8" stroke="#808000" stroke-width="0.9" stroke-opacity="0.6" stroke-dasharray="2.1 1.7"/>
<path d="M471.1,161.6 H484.8" stroke="#808080" stroke-width="0.9" stroke-opacity="0.6" stroke-dasharray="2.1 1.7"/>
<path d="M471.1,176.1 H484.8" stroke="#87ceeb" stroke-width="0.9" stroke-opacity="0.6" stroke-dasharray="2.1 1.7"/>
<g id="logo">
<path d="M477.56,479.33 A11.0,11.0 0 1 0 465.55,497.47" fill="none" stroke="#5b9bd5" stroke-width="1.0"/>
<path d="M465.55,497.47 A11.0,11.0 0 0 0 476.51,496.51" fill="none" stroke="#a9d6ef" stroke-width="0.8"/>
<path d="M465.7,486.1 L483.4,482.8 L483.7,484.1 L478.9,485.75 L476.6,491.7 L464.9,491.2 Z" fill="#5b9bd5"/>
<path d="M462.5,492.3 C468,491.8 472,493.2 477,492.6 C480,492.3 483,492.4 486,492.1" fill="none" stroke="#a9dcf2" stroke-width="0.8"/>
<text x="484.9" y="490.9" font-size="11.8" fill="#5b9bd5" stroke="#5b9bd5" stroke-width="0.4" textLength="30.8" lengthAdjust="spacingAndGlyphs">rows</text>
<text x="516.7" y="490.9" font-size="12.2" fill="#9dd6f0" textLength="36.2" lengthAdjust="spacingAndGlyphs">andall</text>
<text x="554.2" y="490.9" font-size="11.8" fill="#5b9bd5" stroke="#5b9bd5" stroke-width="0.4" textLength="27" lengthAdjust="spacingAndGlyphs">.com</text>
</g>
</g></g>
</svg></body></html>
